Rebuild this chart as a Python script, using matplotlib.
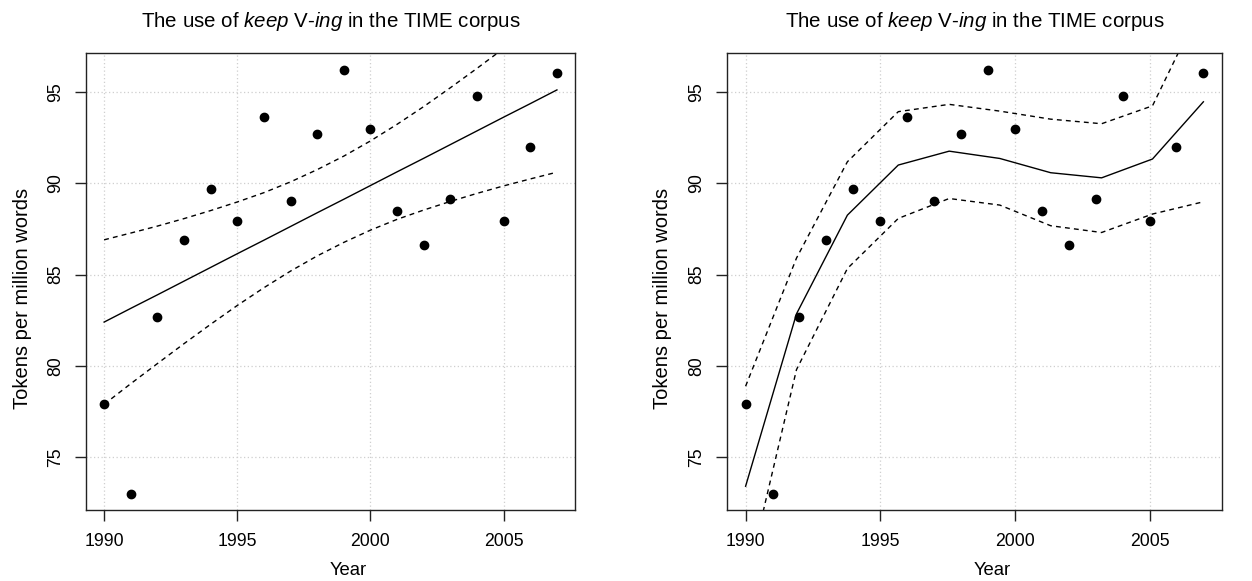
"""Two-panel R-style plot: keep V-ing frequency in TIME, linear fit vs smoother."""

import matplotlib

matplotlib.use("Agg")
import matplotlib.pyplot as plt

plt.rcParams["font.family"] = ["Liberation Sans", "DejaVu Sans"]
plt.rcParams["mathtext.fontset"] = "custom"
plt.rcParams["mathtext.rm"] = "Liberation Sans"
plt.rcParams["mathtext.it"] = "Liberation Sans:italic"

years = [1990, 1991, 1992, 1993, 1994, 1995, 1996, 1997, 1998,
         1999, 2000, 2001, 2002, 2003, 2004, 2005, 2006, 2007]
tokens = [77.9, 73.0, 82.7, 86.9, 89.7, 87.94, 93.63, 89.03, 92.67,
          96.19, 92.96, 88.5, 86.6, 89.16, 94.76, 87.94, 91.99, 96.04]

# linear fit with confidence band (read per year)
lin_fit = [82.40, 83.15, 83.89, 84.64, 85.39, 86.14, 86.88, 87.63, 88.38,
           89.12, 89.87, 90.62, 91.36, 92.11, 92.86, 93.61, 94.35, 95.10]
lin_upper = [86.90, 87.27, 87.65, 88.06, 88.50, 88.97, 89.48, 90.07, 90.74,
             91.48, 92.31, 93.22, 94.19, 95.22, 96.28, 97.37, 98.47, 99.60]
lin_lower = [77.90, 79.03, 80.13, 81.22, 82.28, 83.31, 84.28, 85.19, 86.02,
             86.76, 87.43, 88.02, 88.53, 89.00, 89.44, 89.85, 90.23, 90.60]

# smoother evaluated on a coarse grid
smooth_x = [1990, 1991.89, 1993.78, 1995.67, 1997.56,
            1999.44, 2001.33, 2003.22, 2005.11, 2007]
smooth_fit = [73.42, 82.85, 88.25, 90.99, 91.75, 91.35, 90.57, 90.29, 91.32, 94.45]
smooth_upper = [78.89, 85.90, 91.17, 93.91, 94.31, 93.94, 93.50, 93.25, 94.23, 99.95]
smooth_lower = [67.95, 79.80, 85.33, 88.07, 89.16, 88.80, 87.67, 87.30, 88.31, 88.98]

x_ticks = [1990, 1995, 2000, 2005]
y_ticks = [75, 80, 85, 90, 95]
title = r"The use of $\mathit{keep}$ V-$\mathit{ing}$ in the TIME corpus"

fig = plt.figure(figsize=(12.52, 5.81), dpi=100)
ax_l = fig.add_axes([0.0687, 0.1222, 0.3906, 0.7866])
ax_r = fig.add_axes([0.5809, 0.1222, 0.3949, 0.7866])

dash = (0, (3.5, 3))
panels = [
    (ax_l, years, lin_fit, lin_upper, lin_lower),
    (ax_r, smooth_x, smooth_fit, smooth_upper, smooth_lower),
]
for ax, xs, fit, up, lo in panels:
    ax.set_xlim(1989.32, 2007.68)
    ax.set_ylim(72.12, 97.12)
    ax.set_xticks(x_ticks)
    ax.set_yticks(y_ticks)
    ax.grid(True, color="#cfcfcf", linestyle=(0, (1, 2)), lw=0.9)
    ax.set_axisbelow(True)

    ax.plot(years, tokens, "o", color="black", ms=6, zorder=3)
    ax.plot(xs, fit, color="black", lw=1.0)
    ax.plot(xs, up, color="black", lw=1.0, ls=dash)
    ax.plot(xs, lo, color="black", lw=1.0, ls=dash)

    for s in ax.spines.values():
        s.set_linewidth(1.0)
        s.set_color("#222222")
    ax.tick_params(direction="out", length=7.6, width=1.0, color="#222222",
                   labelsize=12.7, top=False, right=False)
    ax.tick_params(axis="x", pad=9)
    ax.tick_params(axis="y", pad=8)
    for lab in ax.get_yticklabels():
        lab.set_rotation(90)
        lab.set_va("center")

    ax.set_title(title, fontsize=14.8, pad=18.5)
    ax.set_xlabel("Year", fontsize=13.3)
    ax.set_ylabel("Tokens per million words", fontsize=14.5)
    ax.xaxis.set_label_coords(0.5 + 18 / 489, -0.113)
    ax.yaxis.set_label_coords(-0.111, 0.5 - 17 / 457)

fig.savefig("out.png", dpi=100)
